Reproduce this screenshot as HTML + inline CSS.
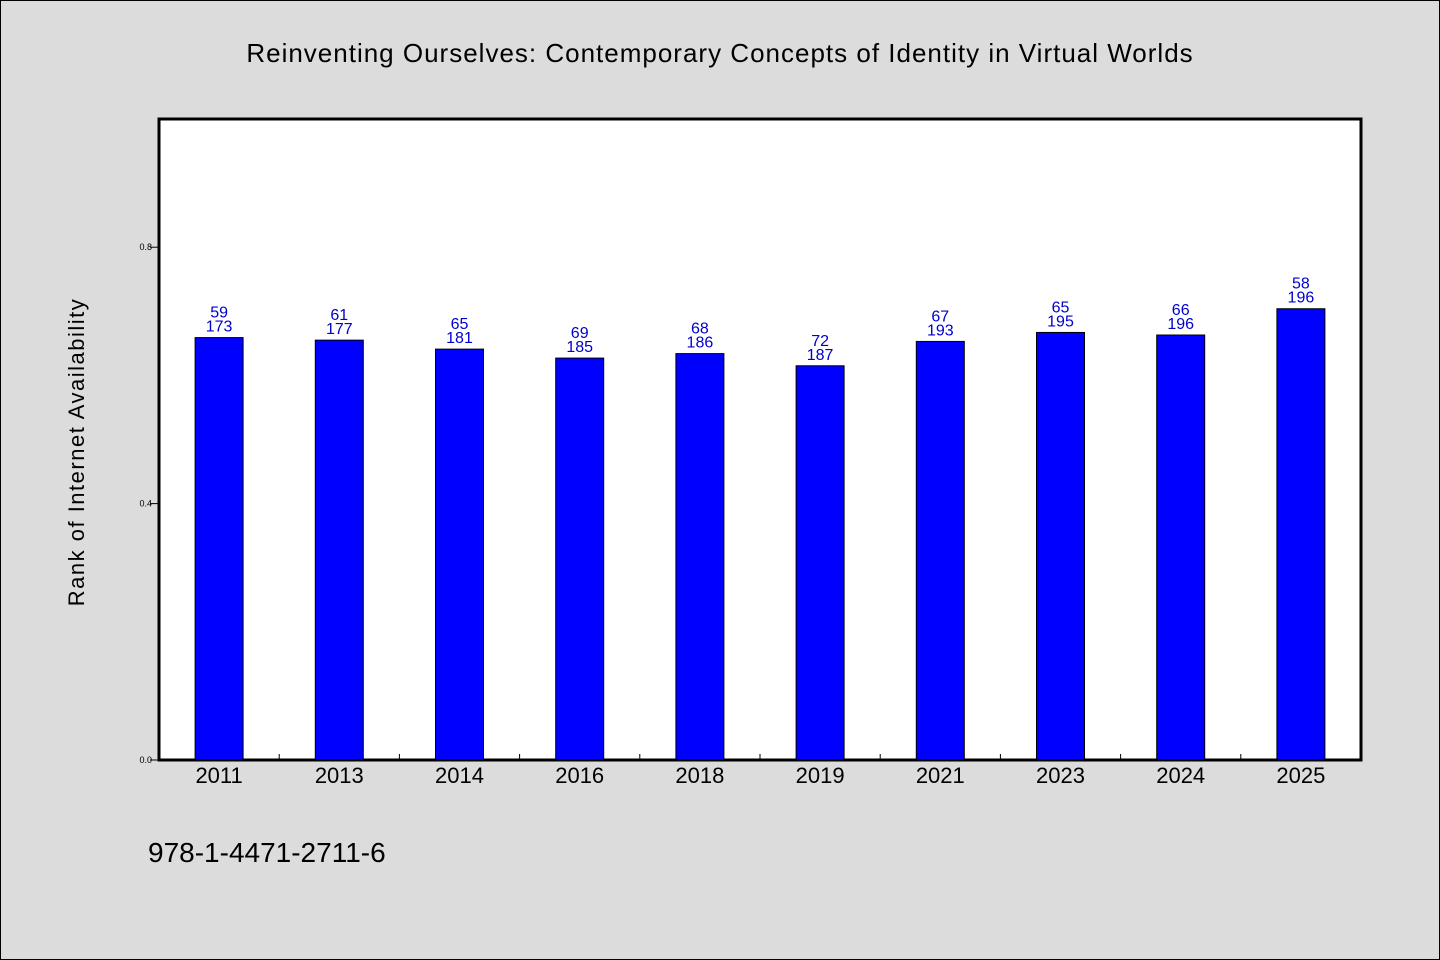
<!DOCTYPE html>
<html><head><meta charset="utf-8"><style>
html,body{margin:0;padding:0;background:#dcdcdc}
svg{display:block}
text{font-family:"WenQuanYi Zen Hei","Liberation Sans",sans-serif}
</style></head><body>
<svg id="chart" width="1440" height="960" xmlns="http://www.w3.org/2000/svg">
<rect x="0.5" y="0.5" width="1439" height="959" fill="#dcdcdc" stroke="#000"/>
<text x="720" y="62" font-size="26" text-anchor="middle" fill="#000" letter-spacing="1">Reinventing Ourselves: Contemporary Concepts of Identity in Virtual Worlds</text>
<rect x="159" y="119" width="1202" height="641" fill="#fff" stroke="#000" stroke-width="3"/>
<text transform="translate(84,452) rotate(-90)" font-size="22" text-anchor="middle" letter-spacing="1.5">Rank of Internet Availability</text>
<text x="148" y="862" font-size="28">978-1-4471-2711-6</text>
<g id="marks"></g>
</svg>
<script>
const categories = ["2011","2013","2014","2016","2018","2019","2021","2023","2024","2025"];
const values = [0.659,0.655,0.641,0.627,0.634,0.615,0.653,0.667,0.663,0.704];
const rankLabels = ["59","61","65","69","68","72","67","65","66","58"];
const totalLabels = ["173","177","181","185","186","187","193","195","196","196"];
const yTicks = [0.0,0.4,0.8];
const yTickLabels = ["0.0","0.4","0.8"];

const X0=159,X1=1361,Y0=760,Y1=119;
const band=(X1-X0)/categories.length;
const xC=i=>X0+band*(i+0.5);
const yS=v=>Y0-(v-0)/(1-0)*(Y0-Y1);
const NS="http://www.w3.org/2000/svg";
const g=document.getElementById('marks');
function mk(tag,attrs,txt){const e=document.createElementNS(NS,tag);for(const k in attrs)e.setAttribute(k,attrs[k]);if(txt!=null)e.textContent=txt;g.appendChild(e);return e;}

yTicks.forEach((t,i)=>{
  const y=yS(t);
  const l=mk('line',{x1:X0-9,x2:X0,y1:y,y2:y,stroke:'#000','stroke-width':1});
  
  
  const tx=mk('text',{x:X0-7,y:y+3,'font-size':9,'text-anchor':'end'},yTickLabels[i]);
  
  
});
for(let i=1;i<categories.length;i++){
  const x=X0+band*i;
  const l=mk('line',{x1:x,x2:x,y1:Y0,y2:Y0-6,stroke:'#000','stroke-width':1});
  
  
}
categories.forEach((c,i)=>{
  const cx=xC(i),w=48,y=yS(values[i]);
  const r=mk('rect',{x:cx-w/2,y:y,width:w,height:Y0-y,fill:'#0000ff',stroke:'#000','stroke-width':1});
  
  
  const t1=mk('text',{x:cx,y:y-20,'font-size':16,'text-anchor':'middle',fill:'#0000cc'},rankLabels[i]);
  
  
  const t2=mk('text',{x:cx,y:y-6,'font-size':16,'text-anchor':'middle',fill:'#0000cc'},totalLabels[i]);
  
  
  const xl=mk('text',{x:cx,y:783,'font-size':22,'text-anchor':'middle'},c);
  
  
});
</script>
</body></html>
